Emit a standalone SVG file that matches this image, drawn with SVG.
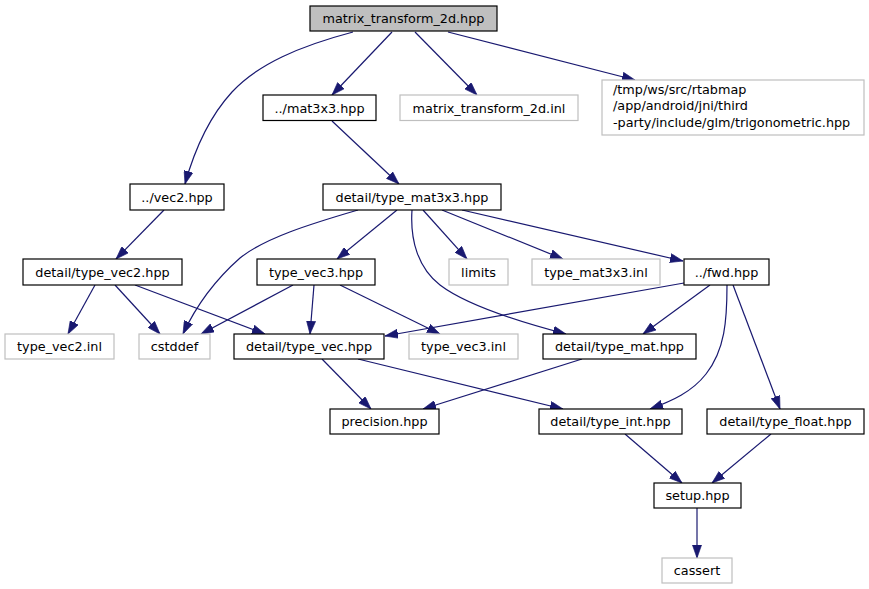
<svg xmlns="http://www.w3.org/2000/svg" width="869" height="589" viewBox="0 0 869 589">
<style>
.n rect{fill:#fff;stroke:#000;stroke-width:1.2}
.n.g rect{stroke:#bfbfbf}
.n.root rect{fill:#bfbfbf}
text{font-family:"DejaVu Sans","Liberation Sans",sans-serif;font-size:12.8px;fill:#000;text-anchor:middle}
.e path{fill:none;stroke:#191970;stroke-width:1.2;marker-end:url(#arr)}
</style>
<defs>
<marker id="arr" markerUnits="userSpaceOnUse" viewBox="0 0 10 7" refX="10" refY="3.5" markerWidth="13" markerHeight="9.5" orient="auto">
<path d="M0,0 L10,3.5 L0,7 z" fill="#191970" stroke="#191970" stroke-width="0.5"/>
</marker>
</defs>
<rect width="869" height="589" fill="#fff"/>
<g id="edges" class="e">
<path d="M353,32 C300,46 258,64 232,92 C210,116 195,148 185,184"/>
<path d="M392,32 L332,95"/>
<path d="M415,32 L477,95"/>
<path d="M448,32 L635,80"/>
<path d="M332,121 L399,184"/>
<path d="M164,210 L116,259"/>
<path d="M358,210 C310,224 265,238 240,258 C215,280 196,306 183,334"/>
<path d="M397,210 L337,259"/>
<path d="M423,210 L467,259"/>
<path d="M442,210 L563,259"/>
<path d="M462,210 L683,261"/>
<path d="M412,210 C410,240 418,268 440,285 C465,304 520,322 566,334"/>
<path d="M95,285 L68,334"/>
<path d="M115,285 L160,334"/>
<path d="M135,285 L265,334"/>
<path d="M293,285 L201,334"/>
<path d="M314,285 L310,334"/>
<path d="M340,285 L440,334"/>
<path d="M684,283 L385,336"/>
<path d="M710,285 L643,334"/>
<path d="M727,285 C727,320 725,350 706,374 C692,392 672,401 650,409"/>
<path d="M733,285 L780,409"/>
<path d="M322,359 L371,409"/>
<path d="M358,359 L563,409"/>
<path d="M582,359 L423,409"/>
<path d="M625,434 L682,483"/>
<path d="M771,434 L712,483"/>
<path d="M697,508 L697,558"/>
</g>
<g id="node_matrix_transform_2d_hpp" class="n root"><rect x="310" y="6" width="187" height="25"/><text x="403.5" y="23">matrix_transform_2d.hpp</text></g>
<g id="node_mat3x3_hpp" class="n"><rect x="263" y="95" width="113" height="25.5"/><text x="319.5" y="112.5">../mat3x3.hpp</text></g>
<g id="node_matrix_transform_2d_inl" class="n g"><rect x="400" y="95" width="178" height="25.5"/><text x="489" y="112.5">matrix_transform_2d.inl</text></g>
<g id="node_trigonometric_hpp" class="n g"><rect x="602" y="80" width="262" height="55"/><text x="613" y="93.5" style="text-anchor:start">/tmp/ws/src/rtabmap</text><text x="613" y="110" style="text-anchor:start">/app/android/jni/third</text><text x="613" y="126.5" style="text-anchor:start">-party/include/glm/trigonometric.hpp</text></g>
<g id="node_vec2_hpp" class="n"><rect x="130" y="184" width="94" height="26"/><text x="177" y="201.5">../vec2.hpp</text></g>
<g id="node_type_mat3x3_hpp" class="n"><rect x="323" y="184" width="178" height="26"/><text x="412" y="201.5">detail/type_mat3x3.hpp</text></g>
<g id="node_type_vec2_hpp" class="n"><rect x="23" y="259" width="159" height="26"/><text x="102.5" y="276.5">detail/type_vec2.hpp</text></g>
<g id="node_type_vec3_hpp" class="n"><rect x="257" y="259" width="118" height="26"/><text x="316" y="276.5">type_vec3.hpp</text></g>
<g id="node_limits" class="n g"><rect x="449" y="259" width="59" height="26"/><text x="478.5" y="276.5">limits</text></g>
<g id="node_type_mat3x3_inl" class="n g"><rect x="532" y="259" width="128" height="26"/><text x="596" y="276.5">type_mat3x3.inl</text></g>
<g id="node_fwd_hpp" class="n"><rect x="684" y="259" width="85" height="26"/><text x="726.5" y="276.5">../fwd.hpp</text></g>
<g id="node_type_vec2_inl" class="n g"><rect x="5" y="334" width="109" height="25"/><text x="59.5" y="351">type_vec2.inl</text></g>
<g id="node_cstddef" class="n g"><rect x="139" y="334" width="71" height="25"/><text x="174.5" y="351">cstddef</text></g>
<g id="node_type_vec_hpp" class="n"><rect x="234" y="334" width="150" height="25"/><text x="309" y="351">detail/type_vec.hpp</text></g>
<g id="node_type_vec3_inl" class="n g"><rect x="409" y="334" width="109" height="25"/><text x="463.5" y="351">type_vec3.inl</text></g>
<g id="node_type_mat_hpp" class="n"><rect x="543" y="334" width="153" height="25"/><text x="619.5" y="351">detail/type_mat.hpp</text></g>
<g id="node_precision_hpp" class="n"><rect x="330" y="409" width="109" height="25"/><text x="384.5" y="426">precision.hpp</text></g>
<g id="node_type_int_hpp" class="n"><rect x="539" y="409" width="143" height="25"/><text x="610.5" y="426">detail/type_int.hpp</text></g>
<g id="node_type_float_hpp" class="n"><rect x="707" y="409" width="157" height="25"/><text x="785.5" y="426">detail/type_float.hpp</text></g>
<g id="node_setup_hpp" class="n"><rect x="654" y="483" width="87" height="25"/><text x="697.5" y="500">setup.hpp</text></g>
<g id="node_cassert" class="n g"><rect x="662" y="558" width="70" height="25"/><text x="697" y="575">cassert</text></g>
</svg>
